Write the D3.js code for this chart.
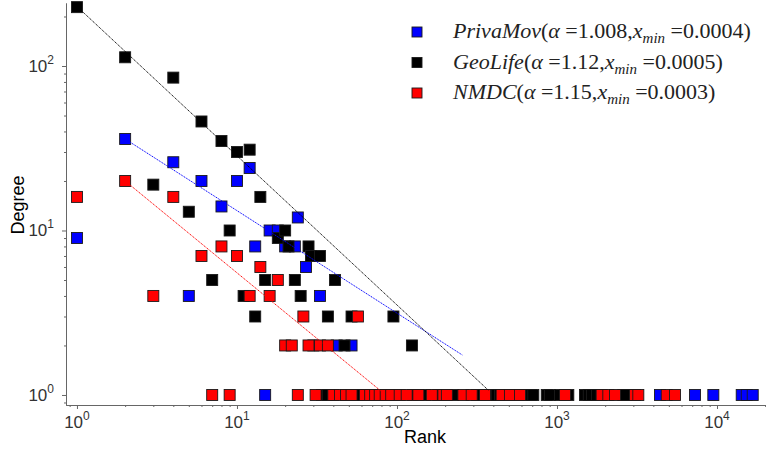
<!DOCTYPE html>
<html>
<head>
<meta charset="utf-8">
<script src="https://cdn.jsdelivr.net/npm/d3@7"></script>
<style>
  body { margin: 0; background: #fff; }
  svg { display: block; }
</style>
</head>
<body>
<div id="chart"></div>
<script>
// rank / degree pairs
const PRIVAMOV = [
    [1, 9], [2, 36], [4, 26], [5, 4], [6, 20], [8, 14], [10, 20], [12, 24], [13, 8],
    [16, 10], [18, 10], [20, 8], [23, 8], [24, 12], [27, 6], [30, 2], [33, 4], [42, 2], [52, 2],
    [15, 1], [381, 1], [2790, 1], [4405, 1], [7290, 1], [9485, 1], [14270, 1], [15340, 1], [16720, 1]
];

const GEOLIFE = [
    [1, 228], [2, 113], [3, 19], [4, 85], [5, 13], [6, 46], [7, 5], [8, 35], [9, 10], [10, 30],
    [11, 4], [12, 31], [13, 3], [14, 16], [15, 5], [18, 9], [20, 10], [21, 8], [23, 5], [25, 4],
    [28, 8], [29, 7], [33, 7], [37, 3], [41, 5], [47, 2], [52, 3], [95, 3], [124, 2],
    [34, 1], [37, 1], [56, 1], [58, 1], [88, 1], [93, 1], [97, 1], [126, 1], [150, 1], [181, 1],
    [225, 1], [315, 1], [330, 1], [400, 1], [420, 1], [440, 1], [480, 1], [540, 1], [620, 1],
    [662, 1], [690, 1], [711, 1], [863, 1], [904, 1], [1044, 1], [1177, 1], [1496, 1], [1580, 1],
    [1655, 1], [1778, 1], [2596, 1], [2700, 1]
];

const NMDC = [
    [1, 16], [2, 20], [3, 4], [4, 16], [6, 7], [8, 8], [10, 7], [12, 4], [14, 6], [16, 4],
    [18, 5], [20, 2], [22, 2], [26, 3], [28, 2], [33, 2], [37, 2], [57, 3],
    [7, 1], [9, 1], [24, 1], [31, 1], [40, 1], [44, 1], [48, 1], [52, 1], [63, 1], [68, 1],
    [73, 1], [78, 1], [85, 1], [92, 1], [104, 1], [115, 1], [136, 1], [165, 1], [195, 1],
    [205, 1], [260, 1], [293, 1], [355, 1], [451, 1], [508, 1], [587, 1], [1122, 1], [1901, 1],
    [2093, 1], [2305, 1], [3073, 1], [3223, 1], [4850, 1], [5464, 1]
];

// power-law fit segments (end points)
const PRIVAMOV_FIT = [[2, 36], [256, 1.75]];
const GEOLIFE_FIT = [[1, 230], [372, 1.07]];
const NMDC_FIT = [[2, 20], [80, 1.05]];

const NAMES = ["PrivaMov", "GeoLife", "NMDC"];
const ALPHAS = ["1.008", "1.12", "1.15"];
const XMINS = ["0.0004", "0.0005", "0.0003"];
const COLORS = ["#0000ff", "#000000", "#ff0000"];

const RANK_MAJOR = [1, 10, 100, 1000, 10000];
const DEGREE_MAJOR = [1, 10, 100];

const width = 766, height = 453;
const plot = { left: 66, right: 766, top: 3, bottom: 405 };

const svg = d3.select("#chart").append("svg")
    .attr("width", width)
    .attr("height", height);

const x = d3.scaleLog().domain([0.854, 20240]).range([plot.left, plot.right]);
const y = d3.scaleLog().domain([0.869, 241.6]).range([plot.bottom, plot.top]);

const sans = "'Liberation Sans', Arial, Helvetica, sans-serif";
const axisColor = "#666";

// x axis
const xMinor = x.ticks().filter(t => !RANK_MAJOR.includes(t));
svg.append("g")
    .attr("transform", `translate(0,${plot.bottom})`)
    .call(d3.axisBottom(x).tickValues(xMinor).tickSize(2).tickSizeOuter(0).tickFormat(() => ""))
    .call(g => g.selectAll("line,path").attr("stroke", axisColor));
svg.append("g")
    .attr("transform", `translate(0,${plot.bottom})`)
    .call(d3.axisBottom(x).tickValues(RANK_MAJOR).tickSize(4).tickSizeOuter(0).tickFormat(() => ""))
    .call(g => g.selectAll("line,path").attr("stroke", axisColor));

// y axis
const yMinor = y.ticks().filter(t => !DEGREE_MAJOR.includes(t));
svg.append("g")
    .attr("transform", `translate(${plot.left},0)`)
    .call(d3.axisLeft(y).tickValues(yMinor).tickSize(2).tickSizeOuter(0).tickFormat(() => ""))
    .call(g => g.selectAll("line,path").attr("stroke", axisColor));
svg.append("g")
    .attr("transform", `translate(${plot.left},0)`)
    .call(d3.axisLeft(y).tickValues(DEGREE_MAJOR).tickSize(4).tickSizeOuter(0).tickFormat(() => ""))
    .call(g => g.selectAll("line,path").attr("stroke", axisColor));

function powLabel(sel) {
    sel.append("tspan").text("10");
    sel.append("tspan")
        .attr("dy", -8)
        .attr("font-size", 12)
        .text(d => Math.round(Math.log10(d)));
}

svg.append("g").selectAll("text")
    .data(RANK_MAJOR)
    .enter().append("text")
    .attr("x", d => x(d))
    .attr("y", 428)
    .attr("text-anchor", "middle")
    .attr("font-family", sans)
    .attr("font-size", 17)
    .attr("fill", "#333")
    .call(powLabel);

svg.append("g").selectAll("text")
    .data(DEGREE_MAJOR)
    .enter().append("text")
    .attr("x", plot.left - 12)
    .attr("y", d => y(d) + 6)
    .attr("text-anchor", "end")
    .attr("font-family", sans)
    .attr("font-size", 17)
    .attr("fill", "#333")
    .call(powLabel);

svg.append("text")
    .attr("x", 425)
    .attr("y", 443)
    .attr("text-anchor", "middle")
    .attr("font-family", sans)
    .attr("font-size", 18)
    .text("Rank");

svg.append("text")
    .attr("transform", `translate(24,205) rotate(-90)`)
    .attr("text-anchor", "middle")
    .attr("font-family", sans)
    .attr("font-size", 18)
    .text("Degree");

// scatter
const series = [PRIVAMOV, GEOLIFE, NMDC];
const fits = [PRIVAMOV_FIT, GEOLIFE_FIT, NMDC_FIT];
const ms = 11;

series.forEach((pts, i) => {
    svg.append("g").selectAll("rect")
        .data(pts)
        .enter().append("rect")
        .attr("x", d => x(d[0]) - ms / 2)
        .attr("y", d => y(d[1]) - ms / 2)
        .attr("width", ms)
        .attr("height", ms)
        .attr("fill", COLORS[i])
        .attr("stroke", "#1a1a1a")
        .attr("stroke-width", 0.9);
});

const line = d3.line().x(d => x(d[0])).y(d => y(d[1]));
fits.forEach((f, i) => {
    svg.append("path")
        .attr("d", line(f))
        .attr("fill", "none")
        .attr("stroke", COLORS[i])
        .attr("stroke-width", 1)
        .attr("stroke-dasharray", "1.2,0.8");
});

// legend
const serif = "'Liberation Serif', 'Times New Roman', serif";
const lg = svg.append("g");
NAMES.forEach((name, i) => {
    const by = 38 + i * 30.5;
    lg.append("rect")
        .attr("x", 412)
        .attr("y", by - 11)
        .attr("width", 10)
        .attr("height", 10)
        .attr("fill", COLORS[i])
        .attr("stroke", "#1a1a1a")
        .attr("stroke-width", 0.9);
    const t = lg.append("text")
        .attr("x", 453)
        .attr("y", by)
        .attr("font-family", serif)
        .attr("font-size", 22)
        .attr("fill", "#222");
    t.append("tspan").attr("font-style", "italic").text(name);
    t.append("tspan").text("(");
    t.append("tspan").attr("font-style", "italic").text("α");
    t.append("tspan").text(" =" + ALPHAS[i] + ",");
    t.append("tspan").attr("font-style", "italic").text("x");
    t.append("tspan").attr("font-style", "italic").attr("font-size", 15).attr("dy", 5).text("min");
    t.append("tspan").attr("dy", -5).text(" =" + XMINS[i] + ")");
});
</script>
</body>
</html>
